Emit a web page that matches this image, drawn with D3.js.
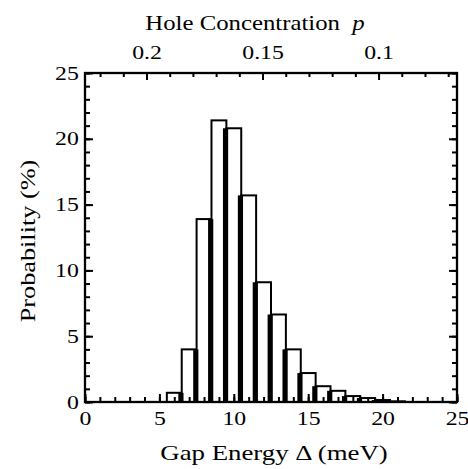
<!DOCTYPE html>
<html>
<head>
<meta charset="utf-8">
<script src="https://cdn.jsdelivr.net/npm/d3@7"></script>
<style>
  body { margin: 0; background: #fff; }
  text { font-family: "Liberation Serif", "Times New Roman", serif; fill: #000; }
</style>
</head>
<body>
<svg width="468" height="469"></svg>
<script>
// histogram values (bars centred on integer meV)
const gapEnergy   = [6, 7, 8, 9, 10, 11, 12, 13, 14, 15, 16, 17, 18, 19, 20, 21];
const probability = [0.7, 4.0, 13.9, 21.4, 20.8, 15.7, 9.1, 6.65, 4.0, 2.2, 1.2, 0.85, 0.45, 0.3, 0.15, 0.05];

const xTicks = [0, 5, 10, 15, 20, 25];
const yTicks = [0, 5, 10, 15, 20, 25];
const pTicks = [0.2, 0.15, 0.1];
const pTickLabels = ['0.2', '0.15', '0.1'];

const svg = d3.select('svg');
const width = +svg.attr('width');
const height = +svg.attr('height');

// plot box
const box = { left: 85, right: 457, top: 73, bottom: 402 };
const sx = 1.25; // the original font is wider than Times

const xScale = d3.scaleLinear().domain([0, 25]).range([box.left, box.right]);
const yScale = d3.scaleLinear().domain([0, 25]).range([box.bottom, box.top]);
// top axis: hole concentration, runs backwards
const pScale = d3.scaleLinear().domain([0.2265, 0.0662]).range([box.left, box.right]);

svg.append('rect')
    .attr('width', width)
    .attr('height', height)
    .attr('fill', '#fff');

const data = gapEnergy.map((e, i) => ({ e, v: probability[i] }));

// bars
svg.append('g').selectAll('rect').data(data)
  .enter().append('rect')
    .attr('x', d => xScale(d.e - 0.5))
    .attr('y', d => yScale(d.v))
    .attr('width', d => xScale(d.e + 0.5) - xScale(d.e - 0.5))
    .attr('height', d => yScale(0) - yScale(d.v))
    .attr('fill', '#fff')
    .attr('stroke', '#000')
    .attr('stroke-width', 2);

// the dark shadow strip on each shared edge
const pairs = data.slice(1).map((d, i) => ({ edge: d.e - 0.5, v: Math.min(d.v, data[i].v) }));
svg.append('g').selectAll('rect').data(pairs)
  .enter().append('rect')
    .attr('x', d => xScale(d.edge) - 3.4)
    .attr('y', d => yScale(d.v))
    .attr('width', 5.2)
    .attr('height', d => yScale(0) - yScale(d.v))
    .attr('fill', '#000');

const styleAxis = g => {
    g.select('.domain').remove();
    g.selectAll('line').attr('stroke', '#000').attr('stroke-width', 2);
};

// bottom
svg.append('g')
    .attr('transform', `translate(0,${box.bottom})`)
    .call(d3.axisBottom(xScale).tickValues(d3.range(0, 26)).tickSize(-5).tickFormat(''))
    .call(styleAxis);
const xAxisG = svg.append('g')
    .attr('transform', `translate(0,${box.bottom})`)
    .call(d3.axisBottom(xScale).tickValues(xTicks).tickSize(-8).tickPadding(9.5))
    .call(styleAxis);

// left
svg.append('g')
    .attr('transform', `translate(${box.left},0)`)
    .call(d3.axisLeft(yScale).tickValues(d3.range(0, 26)).tickSize(-5).tickFormat(''))
    .call(styleAxis);
const yAxisG = svg.append('g')
    .attr('transform', `translate(${box.left},0)`)
    .call(d3.axisLeft(yScale).tickValues(yTicks).tickSize(-8).tickPadding(5))
    .call(styleAxis);

// right
svg.append('g')
    .attr('transform', `translate(${box.right},0)`)
    .call(d3.axisRight(yScale).tickValues(d3.range(0, 26)).tickSize(-5).tickFormat(''))
    .call(styleAxis);
svg.append('g')
    .attr('transform', `translate(${box.right},0)`)
    .call(d3.axisRight(yScale).tickValues(yTicks).tickSize(-8).tickFormat(''))
    .call(styleAxis);

// top (hole concentration)
svg.append('g')
    .attr('transform', `translate(0,${box.top})`)
    .call(d3.axisTop(pScale).tickValues(d3.range(7, 23).map(k => k / 100)).tickSize(-4).tickFormat(''))
    .call(styleAxis);
const pAxisG = svg.append('g')
    .attr('transform', `translate(0,${box.top})`)
    .call(d3.axisTop(pScale).tickValues(pTicks).tickSize(-7).tickPadding(13.7)
        .tickFormat((d, i) => pTickLabels[i]))
    .call(styleAxis);

[xAxisG, yAxisG, pAxisG].forEach(g => {
    g.attr('font-family', null).attr('font-size', null);
    g.selectAll('text')
        .attr('font-size', 19)
        .attr('transform', `scale(${sx},1)`);
});

// frame
svg.append('rect')
    .attr('x', box.left)
    .attr('y', box.top)
    .attr('width', box.right - box.left)
    .attr('height', box.bottom - box.top)
    .attr('fill', 'none')
    .attr('stroke', '#000')
    .attr('stroke-width', 2.3);

// titles
const title = svg.append('g')
    .attr('transform', `translate(255,30) scale(1.18,1)`)
  .append('text')
    .attr('text-anchor', 'middle')
    .attr('font-size', 21);
title.append('tspan').text('Hole Concentration\u00a0 ');
title.append('tspan').attr('font-style', 'italic').text('p');

svg.append('g')
    .attr('transform', `translate(274,460) scale(1.22,1)`)
  .append('text')
    .attr('text-anchor', 'middle')
    .attr('font-size', 22)
    .text('Gap Energy \u0394 (meV)');

svg.append('g')
    .attr('transform', `translate(35,241) rotate(-90) scale(${sx},1)`)
  .append('text')
    .attr('text-anchor', 'middle')
    .attr('font-size', 21)
    .text('Probability (%)');
</script>
</body>
</html>
